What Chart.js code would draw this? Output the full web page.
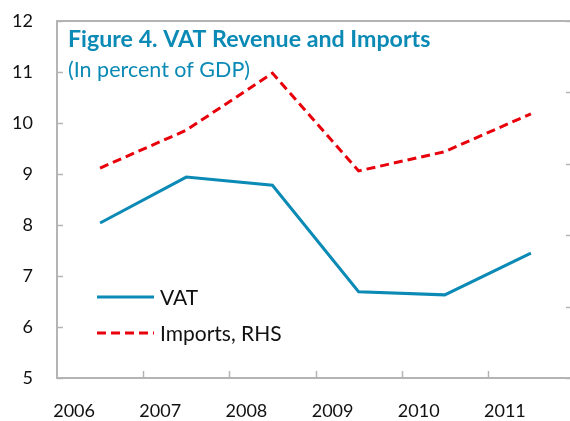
<!DOCTYPE html>
<html>
<head>
<meta charset="utf-8">
<script src="https://cdn.jsdelivr.net/npm/chart.js@4.4.0/dist/chart.umd.min.js"></script>
<style>
  html, body { margin: 0; padding: 0; overflow: hidden; background: #fff; width: 570px; height: 421px; }
  canvas { display: block; }
</style>
</head>
<body>
<canvas id="c" width="576" height="421" style="width:576px;height:421px"></canvas>
<script>
const categories = ['2006', '2007', '2008', '2009', '2010', '2011'];
const vatValues = [8.04, 8.94, 8.78, 6.69, 6.63, 7.45];
const importValues = [49.4, 54.7, 62.7, 49.0, 51.7, 57.0];
const leftTicks = [5, 6, 7, 8, 9, 10, 11, 12];
const rightTicks = [20, 30, 40, 50, 60, 70];
const titleText = 'Figure 4. VAT Revenue and Imports';
const subtitleText = '(In percent of GDP)';

const BLUE = '#0b8ab5';
const RED = '#e8000b';
const GREY = '#b4b4b4';
const FONT = 'Lato, "Open Sans", sans-serif';

const decor = {
  id: 'decor',
  afterDraw(chart) {
    const ctx = chart.ctx;
    const a = chart.chartArea;
    const x = chart.scales.x, y = chart.scales.y, y2 = chart.scales.y2;
    ctx.save();
    ctx.strokeStyle = GREY;
    ctx.lineWidth = 2;
    ctx.strokeRect(a.left, a.top, a.right - a.left, a.bottom - a.top);
    ctx.lineWidth = 1.5;
    y.ticks.forEach((t, i) => {
      const py = Math.round(y.getPixelForTick(i)) + 0.5;
      ctx.beginPath(); ctx.moveTo(a.left, py); ctx.lineTo(a.left + 6, py); ctx.stroke();
    });
    y2.ticks.forEach((t, i) => {
      const py = Math.round(y2.getPixelForTick(i)) + 0.5;
      ctx.beginPath(); ctx.moveTo(a.right, py); ctx.lineTo(a.right - 8, py); ctx.stroke();
    });
    for (let i = 1; i < categories.length; i++) {
      const px = Math.round((x.getPixelForValue(i) + x.getPixelForValue(i - 1)) / 2) + 0.5;
      ctx.beginPath(); ctx.moveTo(px, a.bottom); ctx.lineTo(px, a.bottom - 7); ctx.stroke();
    }
    ctx.fillStyle = BLUE;
    ctx.textBaseline = 'alphabetic';
    ctx.textAlign = 'left';
    ctx.font = 'bold 23.2px ' + FONT;
    ctx.fillText(titleText, a.left + 11, a.top + 26);
    ctx.font = '21.5px ' + FONT;
    ctx.fillText(subtitleText, a.left + 11, a.top + 56);
    const items = chart.data.datasets;
    const ly = [a.top + 276, a.top + 312];
    items.forEach((ds, i) => {
      ctx.strokeStyle = ds.borderColor;
      ctx.lineWidth = ds.borderWidth;
      ctx.setLineDash(ds.borderDash || []);
      ctx.beginPath(); ctx.moveTo(a.left + 40, ly[i]); ctx.lineTo(a.left + 97, ly[i]); ctx.stroke();
      ctx.setLineDash([]);
      ctx.fillStyle = '#111';
      ctx.font = '21px ' + FONT;
      ctx.textBaseline = 'middle';
      ctx.fillText(ds.label, a.left + 103, ly[i] + 1);
    });
    ctx.restore();
  }
};

new Chart(document.getElementById('c'), {
  type: 'line',
  data: {
    labels: categories,
    datasets: [
      { label: 'VAT', data: vatValues, yAxisID: 'y', borderColor: BLUE, borderWidth: 3,
        pointRadius: 0, tension: 0, fill: false },
      { label: 'Imports, RHS', data: importValues, yAxisID: 'y2', borderColor: RED, borderWidth: 3,
        borderDash: [9, 5], pointRadius: 0, tension: 0, fill: false }
    ]
  },
  options: {
    responsive: false,
    animation: false,
    layout: { padding: { top: 21, right: 2, left: 0, bottom: 0 } },
    plugins: { legend: { display: false }, tooltip: { enabled: false }, title: { display: false } },
    scales: {
      x: {
        type: 'category',
        offset: true,
        grid: { display: false, drawTicks: false },
        border: { display: false },
        ticks: { color: '#111', font: { family: FONT, size: 18 }, padding: 22, maxRotation: 0, labelOffset: -26 },
        afterFit(s) { s.height = 43; s.paddingLeft = 0; s.paddingRight = 0; }
      },
      y: {
        position: 'left',
        min: 5, max: 12,
        afterBuildTicks(s) { s.ticks = leftTicks.map(v => ({ value: v })); },
        grid: { display: false, drawTicks: false },
        border: { display: false },
        ticks: { color: '#111', font: { family: FONT, size: 18 }, padding: 24 },
        afterFit(s) { s.width = 57; s.paddingTop = 0; s.paddingBottom = 0; }
      },
      y2: {
        position: 'right',
        min: 20, max: 70,
        afterBuildTicks(s) { s.ticks = rightTicks.map(v => ({ value: v })); },
        grid: { display: false, drawTicks: false },
        border: { display: false },
        ticks: { display: false },
        afterFit(s) { s.width = 0; s.paddingTop = 0; s.paddingBottom = 0; }
      }
    }
  },
  plugins: [decor]
});
</script>
</body>
</html>
